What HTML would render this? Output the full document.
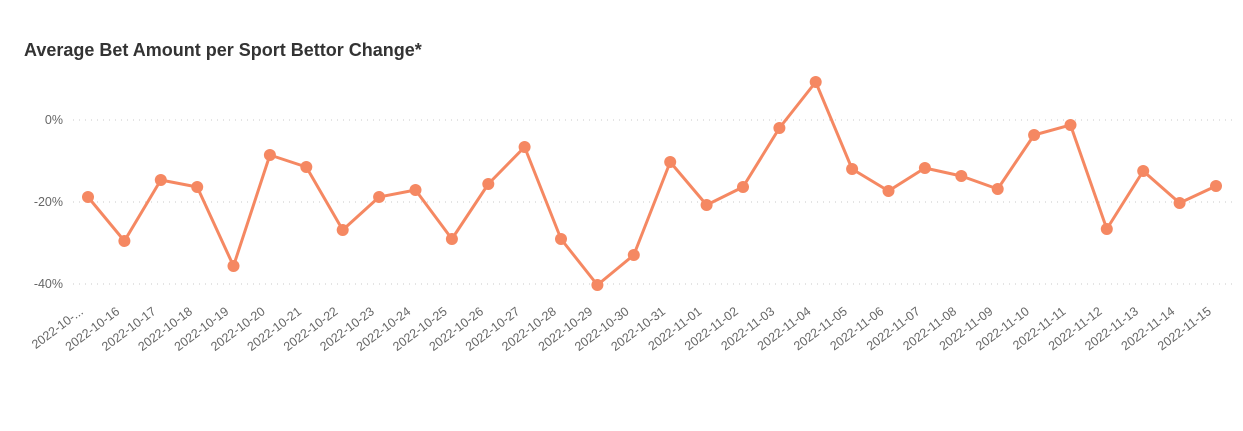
<!DOCTYPE html>
<html><head><style>
html,body{margin:0;padding:0;background:#fff;}
svg{display:block;font-family:"Liberation Sans",sans-serif;}
</style></head><body>
<svg width="1243" height="431" viewBox="0 0 1243 431">
<text x="24" y="56" font-size="18" font-weight="bold" fill="#333">Average Bet Amount per Sport Bettor Change*</text>
<g stroke="#c8c8c8" stroke-dasharray="1,5" stroke-width="1">
<line x1="73" y1="120" x2="1232" y2="120"/>
<line x1="73" y1="202" x2="1232" y2="202"/>
<line x1="73" y1="284" x2="1232" y2="284"/>
</g>
<g font-size="12.5" fill="#666" text-anchor="end">
<text x="63" y="124">0%</text>
<text x="63" y="206">-20%</text>
<text x="63" y="288">-40%</text>
</g>
<polyline fill="none" stroke="#F58862" stroke-width="3" stroke-linejoin="round" points="88,197 124.4,241 160.8,180 197.2,187 233.5,266 269.9,155 306.3,167 342.7,230 379.1,197 415.5,190 451.9,239 488.3,184 524.6,147 561,239 597.4,285 633.8,255 670.2,162 706.6,205 743,187 779.4,128 815.7,82 852.1,169 888.5,191 924.9,168 961.3,176 997.7,189 1034.1,135 1070.5,125 1106.8,229 1143.2,171 1179.6,203 1216,186"/>
<g fill="#F58862">
<circle cx="88" cy="197" r="6"/><circle cx="124.4" cy="241" r="6"/><circle cx="160.8" cy="180" r="6"/><circle cx="197.2" cy="187" r="6"/><circle cx="233.5" cy="266" r="6"/><circle cx="269.9" cy="155" r="6"/><circle cx="306.3" cy="167" r="6"/><circle cx="342.7" cy="230" r="6"/><circle cx="379.1" cy="197" r="6"/><circle cx="415.5" cy="190" r="6"/><circle cx="451.9" cy="239" r="6"/><circle cx="488.3" cy="184" r="6"/><circle cx="524.6" cy="147" r="6"/><circle cx="561" cy="239" r="6"/><circle cx="597.4" cy="285" r="6"/><circle cx="633.8" cy="255" r="6"/><circle cx="670.2" cy="162" r="6"/><circle cx="706.6" cy="205" r="6"/><circle cx="743" cy="187" r="6"/><circle cx="779.4" cy="128" r="6"/><circle cx="815.7" cy="82" r="6"/><circle cx="852.1" cy="169" r="6"/><circle cx="888.5" cy="191" r="6"/><circle cx="924.9" cy="168" r="6"/><circle cx="961.3" cy="176" r="6"/><circle cx="997.7" cy="189" r="6"/><circle cx="1034.1" cy="135" r="6"/><circle cx="1070.5" cy="125" r="6"/><circle cx="1106.8" cy="229" r="6"/><circle cx="1143.2" cy="171" r="6"/><circle cx="1179.6" cy="203" r="6"/><circle cx="1216" cy="186" r="6"/>
</g>
<g font-size="12.5" fill="#666" text-anchor="end">
<text transform="translate(84,313) rotate(-37)">2022-10-...</text>
<text transform="translate(120.4,313) rotate(-37)">2022-10-16</text>
<text transform="translate(156.8,313) rotate(-37)">2022-10-17</text>
<text transform="translate(193.2,313) rotate(-37)">2022-10-18</text>
<text transform="translate(229.5,313) rotate(-37)">2022-10-19</text>
<text transform="translate(265.9,313) rotate(-37)">2022-10-20</text>
<text transform="translate(302.3,313) rotate(-37)">2022-10-21</text>
<text transform="translate(338.7,313) rotate(-37)">2022-10-22</text>
<text transform="translate(375.1,313) rotate(-37)">2022-10-23</text>
<text transform="translate(411.5,313) rotate(-37)">2022-10-24</text>
<text transform="translate(447.9,313) rotate(-37)">2022-10-25</text>
<text transform="translate(484.3,313) rotate(-37)">2022-10-26</text>
<text transform="translate(520.6,313) rotate(-37)">2022-10-27</text>
<text transform="translate(557,313) rotate(-37)">2022-10-28</text>
<text transform="translate(593.4,313) rotate(-37)">2022-10-29</text>
<text transform="translate(629.8,313) rotate(-37)">2022-10-30</text>
<text transform="translate(666.2,313) rotate(-37)">2022-10-31</text>
<text transform="translate(702.6,313) rotate(-37)">2022-11-01</text>
<text transform="translate(739,313) rotate(-37)">2022-11-02</text>
<text transform="translate(775.4,313) rotate(-37)">2022-11-03</text>
<text transform="translate(811.7,313) rotate(-37)">2022-11-04</text>
<text transform="translate(848.1,313) rotate(-37)">2022-11-05</text>
<text transform="translate(884.5,313) rotate(-37)">2022-11-06</text>
<text transform="translate(920.9,313) rotate(-37)">2022-11-07</text>
<text transform="translate(957.3,313) rotate(-37)">2022-11-08</text>
<text transform="translate(993.7,313) rotate(-37)">2022-11-09</text>
<text transform="translate(1030.1,313) rotate(-37)">2022-11-10</text>
<text transform="translate(1066.5,313) rotate(-37)">2022-11-11</text>
<text transform="translate(1102.8,313) rotate(-37)">2022-11-12</text>
<text transform="translate(1139.2,313) rotate(-37)">2022-11-13</text>
<text transform="translate(1175.6,313) rotate(-37)">2022-11-14</text>
<text transform="translate(1212,313) rotate(-37)">2022-11-15</text>
</g>
</svg>
</body></html>
